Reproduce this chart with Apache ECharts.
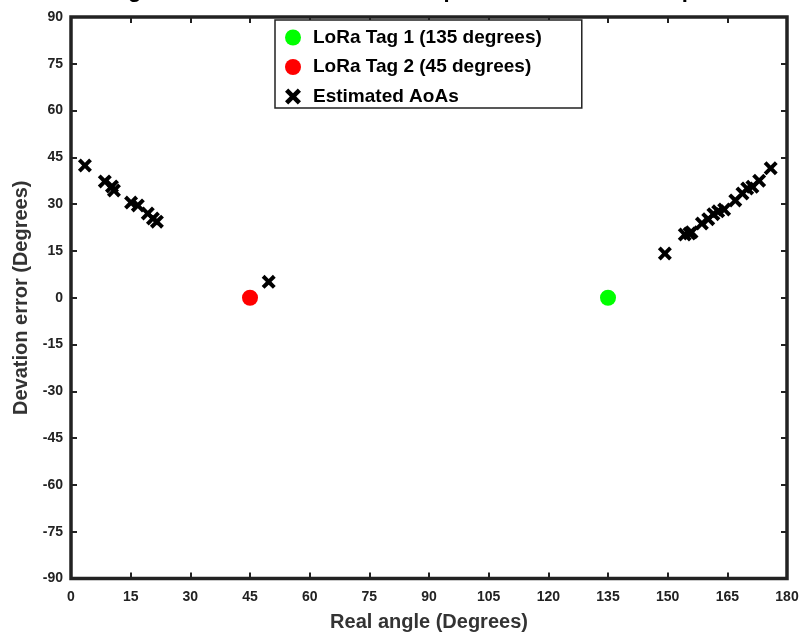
<!DOCTYPE html>
<html><head><meta charset="utf-8">
<script src="https://cdn.jsdelivr.net/npm/echarts@6/dist/echarts.min.js"></script>
<style>html,body{margin:0;padding:0;background:#fff}#c{width:800px;height:634px}</style>
</head><body><div id="c"></div>
<script>
const titleText = "Angle deviation of the AoAs compared to the real LoRa position";
const xTicks = [0,15,30,45,60,75,90,105,120,135,150,165,180];
const yTicks = [-90,-75,-60,-45,-30,-15,0,15,30,45,60,75,90];
const tag1 = [[135, 0]];
const tag2 = [[45, 0]];
const estimated = [
  [3.5,42.4],[8.5,37.3],[10.3,35.7],[10.8,34.4],[15.1,30.5],[16.8,29.6],[19.3,27.0],[20.6,25.4],[21.6,24.4],
  [49.7,5.1],
  [149.3,14.2],[154.3,20.3],[155.5,20.6],[156,21],[158.6,23.8],[160.2,25.2],[161.5,26.8],[162.7,27.7],[164.2,28.3],
  [167,31.2],[168.8,33.4],[170,35],[171.3,35.6],[173,37.5],[175.9,41.5]
];
const seriesNames = ["LoRa Tag 1 (135 degrees)", "LoRa Tag 2 (45 degrees)", "Estimated AoAs"];

const crossPath = 'path://M0,2 L2,0 L5,3 L8,0 L10,2 L7,5 L10,8 L8,10 L5,7 L2,10 L0,8 L3,5 Z';
const F = "'Liberation Sans',Arial,sans-serif";
const chart = echarts.init(document.getElementById('c'), null, {renderer:'canvas'});
function axisBase(extra) {
  return Object.assign({
    type: 'value', min: yTicks[0], max: yTicks[yTicks.length-1], interval: 15,
    axisLine: {show: false, onZero: false},
    splitLine: {show: false},
    axisTick: {inside: true, length: 6, lineStyle: {color: '#222', width: 2}}
  }, extra);
}
chart.setOption({
  animation: false,
  backgroundColor: '#fff',
  title: {
    text: titleText, left: 428, textAlign: 'center', top: -25,
    textStyle: {fontFamily: F, fontWeight: 'bold', fontSize: 22, color: '#000'}
  },
  grid: {left: 71, right: 13, top: 17, bottom: 55.5, outerBoundsMode: 'none', containLabel: false,
         show: true, borderColor: '#222', borderWidth: 3.5, backgroundColor: 'transparent'},
  legend: {
    orient: 'vertical', left: 275, top: 20,
    padding: [8, 40, 2, 10],
    itemGap: 10.5, itemWidth: 30, itemHeight: 16,
    borderColor: '#222', borderWidth: 1.5, backgroundColor: '#fff',
    textStyle: {fontFamily: F, fontWeight: 'bold', fontSize: 19, color: '#000'},
    data: seriesNames
  },
  xAxis: [
    axisBase({
      min: xTicks[0], max: xTicks[xTicks.length-1], position: 'bottom',
      name: 'Real angle (Degrees)', nameLocation: 'middle', nameGap: 34,
      nameTextStyle: {fontFamily: F, fontWeight: 'bold', fontSize: 20, color: '#333'},
      axisLabel: {fontFamily: F, fontWeight: 'bold', fontSize: 14, color: '#222', margin: 12}
    }),
    axisBase({min: xTicks[0], max: xTicks[xTicks.length-1], position: 'top', axisLabel: {show: false}})
  ],
  yAxis: [
    axisBase({
      position: 'left',
      name: 'Devation error (Degrees)', nameLocation: 'middle', nameGap: 40,
      nameTextStyle: {fontFamily: F, fontWeight: 'bold', fontSize: 20, color: '#333'},
      axisLabel: {fontFamily: F, fontWeight: 'bold', fontSize: 14, color: '#222', margin: 8}
    }),
    axisBase({position: 'right', axisLabel: {show: false}})
  ],
  series: [
    {name: seriesNames[0], type: 'scatter', data: tag1, symbol: 'circle', symbolSize: 16, itemStyle: {color: '#00ff00', opacity: 1}, z: 3},
    {name: seriesNames[1], type: 'scatter', data: tag2, symbol: 'circle', symbolSize: 16, itemStyle: {color: '#ff0000', opacity: 1}, z: 3},
    {name: seriesNames[2], type: 'scatter', data: estimated, symbol: crossPath, symbolSize: 14, itemStyle: {color: '#000', opacity: 1}, z: 4}
  ]
});
</script></body></html>
